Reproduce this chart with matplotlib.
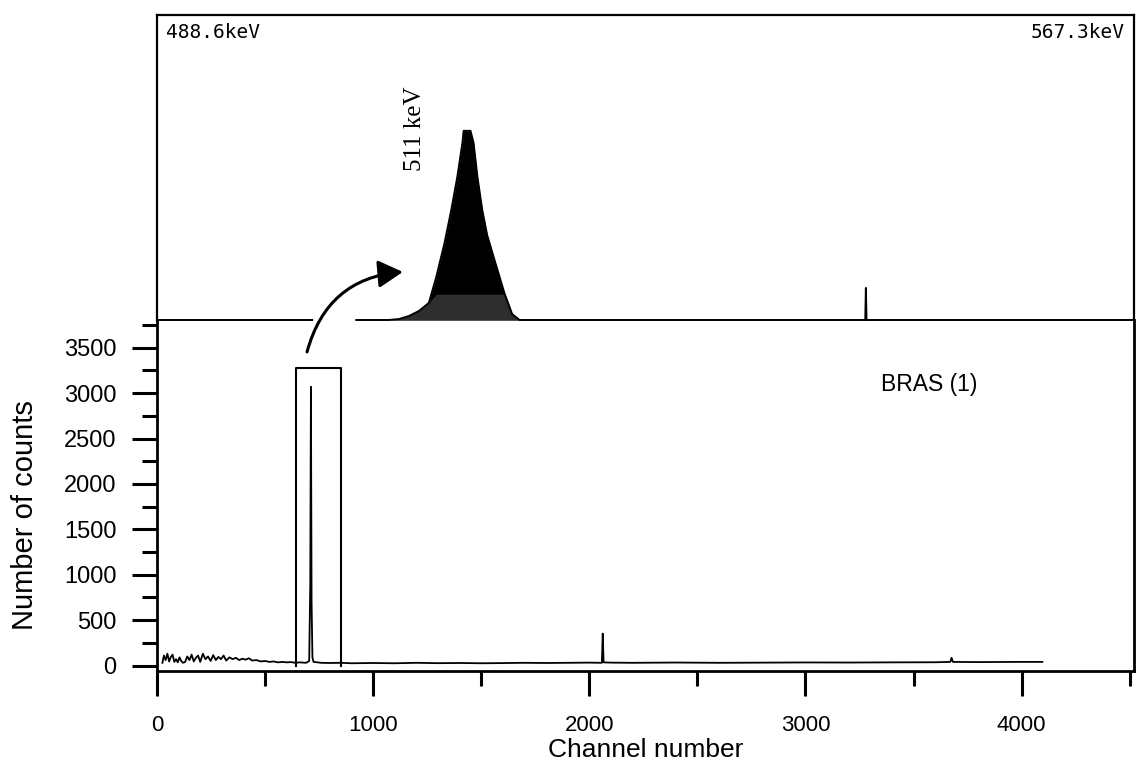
import numpy as np
import matplotlib.pyplot as plt

plt.rcParams['font.family'] = ['Liberation Sans', 'DejaVu Sans']

# full spectrum (channel, counts)
channels = [25, 32, 40, 48, 56, 64, 72, 80, 88, 96, 104, 112, 120, 130, 140,
            150, 160, 170, 180, 190, 200, 212, 224, 236, 248, 260, 272, 284,
            296, 308, 320, 335, 350, 365, 380, 395, 410, 425, 440, 460, 480,
            500, 520, 540, 560, 580, 600, 620, 640, 660, 690, 704, 709, 712,
            715, 719, 724, 760, 800, 850, 900, 1000, 1100, 1200, 1300, 1400,
            1500, 1600, 1700, 1800, 1900, 2000, 2058, 2062, 2066, 2100, 2200,
            2400, 2600, 2800, 3000, 3200, 3400, 3600, 3670, 3676, 3682, 3800,
            4000, 4096]
counts = [30, 110, 60, 130, 45, 95, 120, 40, 70, 35, 90, 50, 30, 40, 100,
          60, 120, 45, 85, 110, 40, 130, 70, 100, 50, 115, 60, 95, 70, 110,
          55, 90, 70, 85, 60, 75, 65, 80, 55, 60, 45, 50, 40, 45, 35, 40, 35,
          38, 30, 35, 30, 50, 900, 3070, 700, 90, 40, 30, 28, 30, 25, 28, 25,
          30, 26, 28, 25, 27, 30, 28, 30, 32, 30, 352, 35, 32, 30, 33, 30, 32,
          34, 33, 35, 36, 40, 85, 40, 38, 40, 40]

# region of interest around the 511 keV line
roi_lo, roi_hi, roi_top = 643, 852, 3278

# expanded view of the region (keV, counts)
peak_kev = [507.3, 508.1, 508.9, 509.7, 510.5, 511.1, 511.75, 512.3, 512.8,
            513.2, 513.3, 513.85, 514.1, 514.4, 514.8, 515.2, 515.8, 516.6,
            517.2, 517.8]
peak_cts = [0, 16, 65, 147, 278, 702, 1241, 1780, 2335, 2874, 3070, 3070,
            2874, 2335, 1780, 1372, 963, 425, 98, 0]
inset_kev = [488.6, 501.1, np.nan, 504.65] + peak_kev + [545.65, 545.7, 545.75, 567.3]
inset_cts = [0, 0, np.nan, 0] + peak_cts + [0, 520, 0, 0]

x_ticks = [0, 1000, 2000, 3000, 4000]
x_minor = [500, 1500, 2500, 3500, 4500]
y_ticks = [0, 500, 1000, 1500, 2000, 2500, 3000, 3500]
y_minor = [250, 750, 1250, 1750, 2250, 2750, 3250, 3750]

fig = plt.figure(figsize=(11.37, 7.65), dpi=100)
ax = fig.add_axes([0.1381, 0.1229, 0.8593, 0.4588])
ax_top = fig.add_axes([0.1381, 0.5817, 0.8593, 0.3987])

# lower panel: whole spectrum
ax.plot(channels, counts, color='black', lw=1.3)
ax.plot([roi_lo, roi_lo, roi_hi, roi_hi], [0, roi_top, roi_top, 0],
        color='black', lw=1.5)
ax.set_xlim(0, 4520)
ax.set_ylim(-60, 3806)
ax.spines['top'].set_visible(False)
for s in ['left', 'bottom', 'right']:
    ax.spines[s].set_linewidth(2.0)
ax.set_xticks(x_ticks)
ax.set_xticks(x_minor, minor=True)
ax.set_yticks(y_ticks)
ax.set_yticks(y_minor, minor=True)
ax.tick_params(which='major', length=18, width=2.2, direction='out')
ax.tick_params(which='minor', length=11, width=2.2, direction='out')
ax.tick_params(axis='x', labelsize=16, pad=14)
ax.tick_params(axis='y', labelsize=17, pad=11)
ax.set_xlabel('Channel number', fontsize=19)
ax.set_ylabel('Number of counts', fontsize=21)
ax.xaxis.set_label_coords(0.5005, -0.19)
ax.yaxis.set_label_coords(-0.121, 0.444)
ax.text(3574, 3091, 'BRAS (1)', fontsize=16.5, ha='center', va='center')

# upper panel: zoom on the 511 keV peak
ax_top.fill_between(peak_kev, peak_cts, color='black', lw=0)
ax_top.fill_between(peak_kev, np.minimum(peak_cts, 420), color='#2e2e2e', lw=0)
ax_top.plot(inset_kev, inset_cts, color='black', lw=1.4, clip_on=False)
ax_top.set_xlim(488.6, 567.3)
ax_top.set_ylim(0, 4950)
ax_top.set_xticks([])
ax_top.set_yticks([])
ax_top.patch.set_alpha(0)
ax_top.spines['bottom'].set_visible(False)
for s in ['left', 'top', 'right']:
    ax_top.spines[s].set_linewidth(1.6)
ax_top.text(0.009, 0.941, '488.6keV', transform=ax_top.transAxes,
            family='DejaVu Sans Mono', fontsize=14, ha='left', va='center')
ax_top.text(0.99, 0.941, '567.3keV', transform=ax_top.transAxes,
            family='DejaVu Sans Mono', fontsize=14, ha='right', va='center')
ax_top.text(509.4, 3100, '511 keV', rotation=90, family='Liberation Serif',
            fontsize=18, ha='center', va='center')

# curved arrow from the ROI box up to the expanded peak
ax_top.annotate('', xy=(508.4, 780), xycoords='data',
                xytext=(694, 3454), textcoords=ax.transData,
                arrowprops=dict(arrowstyle='-|>,head_length=0.75,head_width=0.42',
                                connectionstyle='arc3,rad=-0.35', lw=2.2,
                                color='black', mutation_scale=20,
                                shrinkA=0, shrinkB=0))

fig.savefig('out.png', dpi=100)
